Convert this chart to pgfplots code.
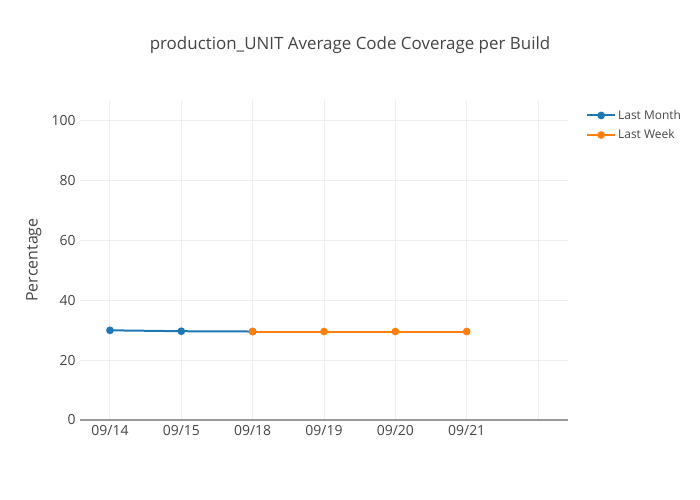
\documentclass[border=0pt]{standalone}
\usepackage{fontspec}
\setmainfont{Open Sans}
\usepackage{pgfplots}
\pgfplotsset{compat=1.18}
\definecolor{txt}{HTML}{444444}
\definecolor{lmonth}{HTML}{1F77B4}
\definecolor{lweek}{HTML}{FF7F0E}
\definecolor{gridc}{HTML}{EEEEEE}
\definecolor{zeroc}{HTML}{999999}
\begin{document}
\begin{tikzpicture}[x=1bp,y=1bp]
\useasboundingbox (-80,-80) rectangle (620,420);
\begin{axis}[
  at={(0,0)}, anchor=south west,
  scale only axis, width=488bp, height=320bp,
  xmin=-0.42, xmax=6.42, ymin=0, ymax=106.7,
  xtick={0,1,2,3,4,5,6},
  xticklabels={09/14,09/15,09/18,09/19,09/20,09/21,},
  ytick={0,20,40,60,80,100},
  grid=major, grid style={gridc, line width=1bp},
  major tick length=0pt,
  axis line style={draw=none},
  ticklabel style={font=\fontsize{14}{16}\selectfont, text=txt},
  xticklabel style={yshift=-2bp},
  yticklabel style={xshift=-1bp},
  /pgf/number format/assume math mode=true,
  ylabel={Percentage},
  ylabel style={font=\fontsize{16}{18}\selectfont, text=txt, at={(-35bp,160bp)}, anchor=south},
  legend style={draw=none, fill=none, at={(503bp,314bp)}, anchor=north west,
    font=\fontsize{12}{14}\selectfont, text=txt, row sep=5bp,
    legend cell align=left},
  legend image code/.code={
    \draw[mark repeat=2, mark phase=2] plot coordinates {(0bp,0bp) (14bp,0bp) (28bp,0bp)};
  },
  clip=false,
]
\draw[zeroc, line width=2bp] (axis cs:-0.42,0) -- (axis cs:6.42,0);
\addplot[lmonth, line width=2bp, mark=*, mark size=2.8bp] coordinates {
  (0,29.9) (1,29.6) (2,29.5)
};
\addlegendentry{Last Month}
\addplot[lweek, line width=2bp, mark=*, mark size=2.8bp] coordinates {
  (2,29.5) (3,29.5) (4,29.5) (5,29.5)
};
\addlegendentry{Last Week}
\end{axis}
\node[text=txt, font=\fontsize{17}{20}\selectfont] at (270,375) {production\_UNIT Average Code Coverage per Build};
\end{tikzpicture}
\end{document}
